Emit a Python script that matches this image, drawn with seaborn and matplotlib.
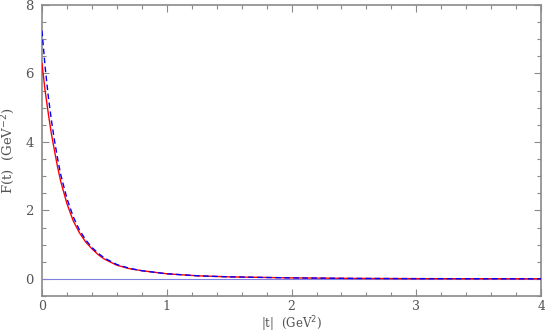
import numpy as np
import pandas as pd
import matplotlib
matplotlib.use('Agg')
import matplotlib.pyplot as plt
import seaborn as sns
from matplotlib.ticker import MultipleLocator

# values
t_vals = [0.0, 0.025, 0.05, 0.075, 0.1, 0.125, 0.15, 0.2, 0.25, 0.3, 0.35, 0.4,
          0.45, 0.5, 0.6, 0.7, 0.8, 1.0, 1.25, 1.5, 2.0, 2.5, 3.0, 4.0]
f_red = [6.3, 5.5, 4.85, 4.25, 3.75, 3.27, 2.85, 2.2, 1.7, 1.35, 1.08, 0.88,
         0.71, 0.58, 0.40, 0.30, 0.24, 0.15, 0.09, 0.06, 0.03, 0.015, 0.008, 0.003]
f_blue = [7.25, 6.2, 5.35, 4.65, 4.05, 3.52, 3.05, 2.35, 1.82, 1.43, 1.14, 0.92,
          0.75, 0.61, 0.42, 0.31, 0.24, 0.15, 0.09, 0.06, 0.03, 0.015, 0.008, 0.003]

df = pd.DataFrame({'t': t_vals, 'red': f_red, 'blue': f_blue})

sns.set_style('ticks')
plt.rcParams['font.family'] = ['DejaVu Serif']

fig = plt.figure(figsize=(5.45, 3.33), dpi=100)
ax = fig.add_axes([0.077, 0.111, 0.916, 0.874])

ax.axhline(0, color='#8080e0', lw=0.8, zorder=1)
sns.lineplot(data=df, x='t', y='red', ax=ax, color='red', lw=1.0, zorder=3)
sns.lineplot(data=df, x='t', y='blue', ax=ax, color='blue', lw=1.0,
             linestyle=(0, (4, 2.5)), zorder=4)

ax.set_xlim(0, 4)
ax.set_ylim(-0.5, 8)
ax.xaxis.set_major_locator(MultipleLocator(1))
ax.xaxis.set_minor_locator(MultipleLocator(0.2))
ax.yaxis.set_major_locator(MultipleLocator(2))
ax.yaxis.set_minor_locator(MultipleLocator(0.5))

grey = '#8a8a8a'
for s in ax.spines.values():
    s.set_color(grey)
    s.set_linewidth(1.2)
    s.set_visible(True)
ax.tick_params(which='both', direction='in', top=True, right=True,
               colors=grey, labelcolor='#555555', labelsize=9.5)
ax.tick_params(which='major', length=5, width=0.8, pad=6)
ax.tick_params(axis='x', which='major', pad=3, labelsize=9)
ax.tick_params(which='minor', length=3, width=0.8)

ax.set_xlabel(r'|t|  (GeV$^2$)', color='#555555', fontsize=8.5)
ax.xaxis.set_label_coords(0.5, -0.064)
ax.set_ylabel(r'F(t)  (GeV$^{-2}$)', color='#555555', fontsize=9.5, labelpad=6)

fig.savefig('out.png', dpi=100)
